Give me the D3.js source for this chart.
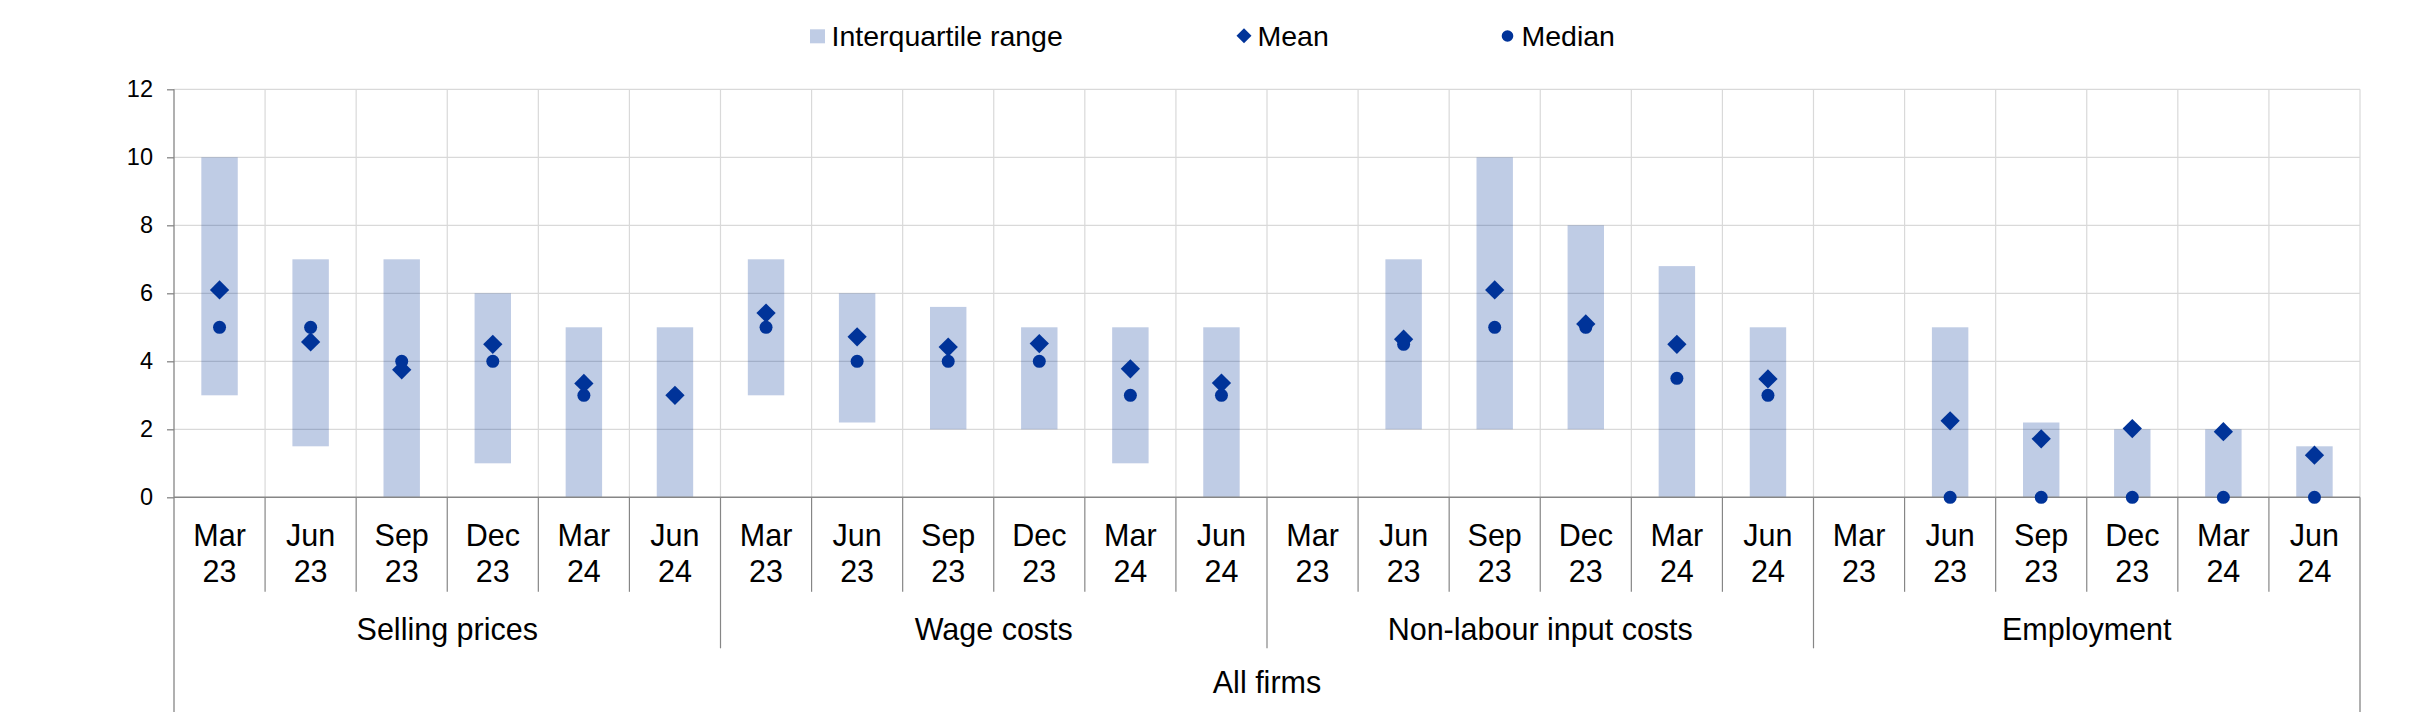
<!DOCTYPE html>
<html>
<head>
<meta charset="utf-8">
<script src="https://cdn.jsdelivr.net/npm/d3@7"></script>
<style>
  html, body { margin: 0; padding: 0; background: #fff; }
  svg { display: block; }
  text { font-family: "Liberation Sans", Arial, sans-serif; fill: #000; }
</style>
</head>
<body>
<svg id="chart" width="2420" height="712"></svg>
<script>
// ---- Data ----
const groups = ["Selling prices", "Wage costs", "Non-labour input costs", "Employment"];
const periodMonths = ["Mar", "Jun", "Sep", "Dec", "Mar", "Jun"];
const periodYears = ["23", "23", "23", "23", "24", "24"];
const yTicks = [0, 2, 4, 6, 8, 10, 12];
const outerLabel = "All firms";
const legendLabels = ["Interquartile range", "Mean", "Median"];

const iqrLow  = [3, 1.5, 0, 1, 0, 0,   3, 2.2, 2, 2, 1, 0,   null, 2, 2, 2, 0, 0,   null, 0, 0, 0, 0, 0];
const iqrHigh = [10, 7, 7, 6, 5, 5,    7, 6, 5.6, 5, 5, 5,   null, 7, 10, 8, 6.8, 5, null, 5, 2.2, 2, 2, 1.5];
const meanVals = [6.1, 4.57, 3.75, 4.5, 3.35, 3.0,  5.42, 4.72, 4.42, 4.52, 3.78, 3.36,
                  null, 4.65, 6.1, 5.1, 4.5, 3.48,  null, 2.25, 1.72, 2.02, 1.93, 1.24];
const medianVals = [5, 5, 4, 4, 3, 3,  5, 4, 4, 4, 3, 3,  null, 4.5, 5, 5, 3.5, 3,  null, 0, 0, 0, 0, 0];

// ---- Build rows ----
const rows = [];
groups.forEach((g, gi) => {
  periodMonths.forEach((m, pi) => {
    const i = gi * periodMonths.length + pi;
    rows.push({ i, group: g, gi, month: m, year: periodYears[pi],
      lo: iqrLow[i], hi: iqrHigh[i], mean: meanVals[i], median: medianVals[i] });
  });
});

// ---- Layout ----
const W = 2420, H = 712;
const margin = { left: 174, right: 60, top: 89.3, bottom: 214.7 };
const x0 = margin.left, x1 = W - margin.right;
const yBase = H - margin.bottom;

const blue = "#003399";
const iqrFill = "rgba(0,51,153,0.25)";
const gridColor = "#D9D9D9";
const axisColor = "#868686";

const svg = d3.select("#chart");

const x = d3.scaleBand().domain(rows.map(d => d.i)).range([x0, x1]).paddingInner(0).paddingOuter(0);
const y = d3.scaleLinear().domain([0, 12]).range([yBase, margin.top]);
const bw = x.bandwidth();

// gridlines horizontal
svg.append("g").selectAll("line").data(yTicks.filter(t => t > 0)).join("line")
  .attr("x1", x0).attr("x2", x1)
  .attr("y1", d => y(d)).attr("y2", d => y(d))
  .attr("stroke", gridColor).attr("stroke-width", 1.2);

// vertical gridlines at category boundaries (inside plot)
svg.append("g").selectAll("line").data(rows.slice(1).map(d => x(d.i)).concat([x1])).join("line")
  .attr("x1", d => d).attr("x2", d => d)
  .attr("y1", y(12)).attr("y2", yBase)
  .attr("stroke", gridColor).attr("stroke-width", 1.2);

// IQR bars
svg.append("g").selectAll("rect").data(rows.filter(d => d.lo != null)).join("rect")
  .attr("x", d => x(d.i) + bw * 0.3)
  .attr("width", bw * 0.4)
  .attr("y", d => y(d.hi))
  .attr("height", d => y(d.lo) - y(d.hi))
  .attr("fill", iqrFill);

// axis lines
const yAxis = d3.axisLeft(y).tickValues(yTicks).tickSize(7).tickPadding(14).tickFormat(d3.format("d"));
const gy = svg.append("g").attr("transform", `translate(${x0},0)`).call(yAxis);
gy.select(".domain").remove();
gy.selectAll(".tick line").attr("stroke", axisColor).attr("stroke-width", 1.3);
gy.selectAll(".tick text").style("font-size", "23.5px").style("font-family", '"Liberation Sans", Arial, sans-serif').attr("fill", "#000");

// left axis line extending to the bottom
svg.append("line").attr("x1", x0).attr("x2", x0).attr("y1", y(12)).attr("y2", H)
  .attr("stroke", axisColor).attr("stroke-width", 1.3);
// right outer line below the axis
svg.append("line").attr("x1", x1).attr("x2", x1).attr("y1", yBase).attr("y2", H)
  .attr("stroke", axisColor).attr("stroke-width", 1.3);
// baseline
svg.append("line").attr("x1", x0).attr("x2", x1).attr("y1", yBase).attr("y2", yBase)
  .attr("stroke", axisColor).attr("stroke-width", 1.5);

// category separators below axis
const catLineEnd = yBase + 94.5;
const groupLineEnd = yBase + 151;
svg.append("g").selectAll("line").data(rows.slice(1)).join("line")
  .attr("x1", d => x(d.i)).attr("x2", d => x(d.i))
  .attr("y1", yBase)
  .attr("y2", d => (d.i % periodMonths.length === 0) ? groupLineEnd : catLineEnd)
  .attr("stroke", axisColor).attr("stroke-width", 1.2);

// category labels
const catText = svg.append("g").selectAll("text").data(rows).join("text")
  .attr("text-anchor", "middle")
  .style("font-size", "30.5px");
catText.append("tspan").attr("x", d => x(d.i) + bw / 2).attr("y", yBase + 48.7).text(d => d.month);
catText.append("tspan").attr("x", d => x(d.i) + bw / 2).attr("y", yBase + 84.5).text(d => d.year);

// group labels
svg.append("g").selectAll("text").data(groups).join("text")
  .attr("text-anchor", "middle")
  .attr("x", (g, gi) => {
    const a = x(gi * periodMonths.length);
    const b = x(gi * periodMonths.length + periodMonths.length - 1) + bw;
    return (a + b) / 2;
  })
  .attr("y", yBase + 142.5)
  .style("font-size", "30.5px")
  .text(d => d);

// outer label
svg.append("text").attr("text-anchor", "middle")
  .attr("x", (x0 + x1) / 2).attr("y", yBase + 196)
  .style("font-size", "30.5px").text(outerLabel);

// medians
svg.append("g").selectAll("circle").data(rows.filter(d => d.median != null)).join("circle")
  .attr("cx", d => x(d.i) + bw / 2)
  .attr("cy", d => y(d.median))
  .attr("r", 6.5)
  .attr("fill", blue);

// means (diamonds)
const diamond = d3.symbol().type(d3.symbolSquare).size(186);
svg.append("g").selectAll("path").data(rows.filter(d => d.mean != null)).join("path")
  .attr("d", diamond)
  .attr("transform", d => `translate(${x(d.i) + bw / 2},${y(d.mean)}) rotate(45)`)
  .attr("fill", blue);

// legend
const leg = svg.append("g");
leg.append("rect").attr("x", 810).attr("y", 29.3).attr("width", 15).attr("height", 14).attr("fill", iqrFill);
leg.append("text").attr("x", 831.5).attr("y", 45.5).style("font-size", "28.5px").text(legendLabels[0]);
leg.append("path").attr("d", d3.symbol().type(d3.symbolSquare).size(112)())
  .attr("transform", "translate(1244,35.8) rotate(45)").attr("fill", blue);
leg.append("text").attr("x", 1257.5).attr("y", 45.5).style("font-size", "28.5px").text(legendLabels[1]);
leg.append("circle").attr("cx", 1507.5).attr("cy", 36).attr("r", 5.8).attr("fill", blue);
leg.append("text").attr("x", 1521.5).attr("y", 45.5).style("font-size", "28.5px").text(legendLabels[2]);
</script>
</body>
</html>
